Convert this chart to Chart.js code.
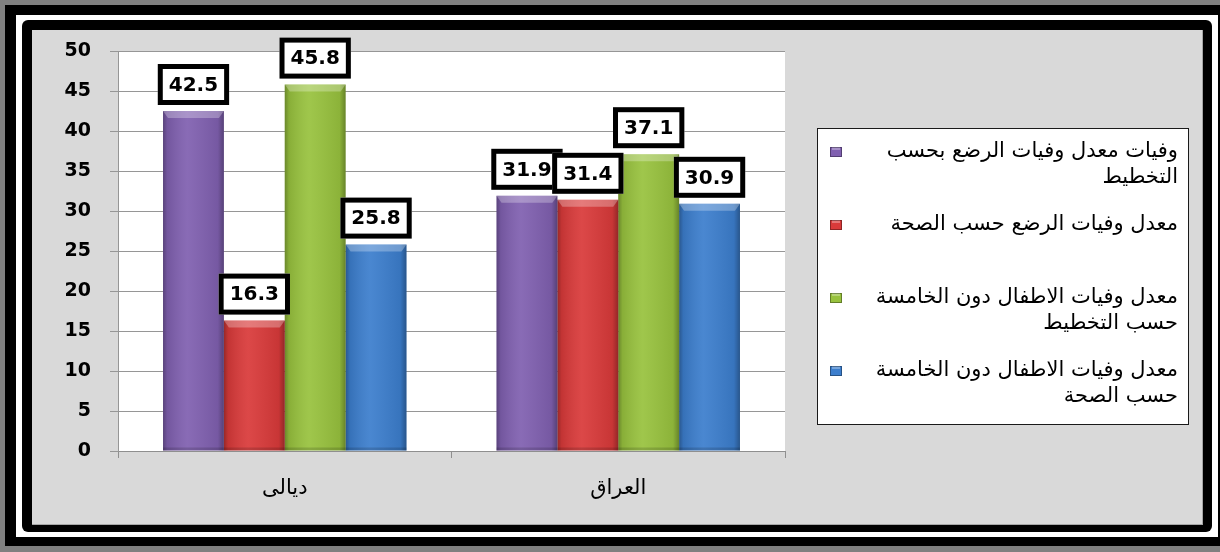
<!DOCTYPE html>
<html>
<head>
<meta charset="utf-8">
<script src="https://cdn.jsdelivr.net/npm/chart.js@4/dist/chart.umd.min.js"></script>
<style>
    html, body { margin: 0; padding: 0; width: 1220px; height: 552px; overflow: hidden; background: #808080; }
    .frame { position: absolute; }
    #outer { left: 5px; top: 5px; width: 1215px; height: 541px; background: #000; }
    #gap { left: 16px; top: 15px; width: 1202px; height: 522px; background: #fff; }
    #inner { left: 22px; top: 20px; width: 1190px; height: 512px; background: #000; border-radius: 6px; }
    #panel { left: 32px; top: 30px; width: 1170px; height: 494px; background: #d9d9d9; border-right: 1px solid #a6a6a6; border-bottom: 1px solid #a6a6a6; }
    #chart { position: absolute; left: 0; top: 0; }
</style>
</head>
<body>
<div class="frame" id="outer"></div>
<div class="frame" id="gap"></div>
<div class="frame" id="inner"></div>
<div class="frame" id="panel"></div>
<canvas id="chart" width="1220" height="552"></canvas>
<script>
const categories = ['ديالى', 'العراق'];

const infantByPlanning = [42.5, 31.9];
const infantByHealth = [16.3, 31.4];
const underFiveByPlanning = [45.8, 37.1];
const underFiveByHealth = [25.8, 30.9];

const seriesNames = [
    ['وفيات معدل وفيات الرضع بحسب', 'التخطيط'],
    ['معدل وفيات الرضع حسب الصحة'],
    ['معدل وفيات الاطفال دون الخامسة', 'حسب التخطيط'],
    ['معدل وفيات الاطفال دون الخامسة', 'حسب الصحة']
];

const yTicks = [0, 5, 10, 15, 20, 25, 30, 35, 40, 45, 50];

const barColors = ['#8060b0', '#d93a3a', '#98c23e', '#3c7ecd'];
const arabicFont = '"DejaVu Sans", sans-serif';

// white plot background
const plotBackground = {
    id: 'plotBackground',
    beforeDraw(chart) {
        const { ctx, chartArea: a } = chart;
        ctx.save();
        ctx.fillStyle = '#ffffff';
        ctx.fillRect(a.left, a.top, a.right - a.left, a.bottom - a.top);
        ctx.restore();
    }
};

// bevel shading on each bar, then the boxed value labels
const barDecor = {
    id: 'barDecor',
    afterDatasetsDraw(chart) {
        const ctx = chart.ctx;
        ctx.save();
        chart.data.datasets.forEach((ds, di) => {
            chart.getDatasetMeta(di).data.forEach(bar => {
                const { x, y, base, width } = bar.getProps(['x', 'y', 'base', 'width'], true);
                const l = x - width / 2, r = x + width / 2;
                const g = ctx.createLinearGradient(l, 0, r, 0);
                g.addColorStop(0, 'rgba(0,0,0,0.30)');
                g.addColorStop(0.07, 'rgba(0,0,0,0.10)');
                g.addColorStop(0.4, 'rgba(255,255,255,0.07)');
                g.addColorStop(0.9, 'rgba(0,0,0,0.08)');
                g.addColorStop(1, 'rgba(0,0,0,0.32)');
                ctx.fillStyle = g;
                ctx.fillRect(l, y, width, base - y);

                ctx.beginPath();
                ctx.moveTo(l, y);
                ctx.lineTo(r, y);
                ctx.lineTo(r - 5, y + 7);
                ctx.lineTo(l + 5, y + 7);
                ctx.closePath();
                ctx.fillStyle = 'rgba(255,255,255,0.28)';
                ctx.fill();

                ctx.fillStyle = 'rgba(0,0,0,0.15)';
                ctx.fillRect(l, base - 3, width, 3);
            });
        });

        ctx.font = 'bold 20px "DejaVu Sans"';
        ctx.textAlign = 'center';
        ctx.textBaseline = 'middle';
        chart.data.datasets.forEach((ds, di) => {
            chart.getDatasetMeta(di).data.forEach((bar, i) => {
                const { x, y } = bar.getProps(['x', 'y'], true);
                const text = ds.data[i].toFixed(1);
                const bw = ctx.measureText(text).width + 22;
                const bh = 41;
                const bx = x - bw / 2;
                const by = y - 6 - bh;
                ctx.fillStyle = '#ffffff';
                ctx.fillRect(bx, by, bw, bh);
                ctx.lineWidth = 5;
                ctx.strokeStyle = '#000000';
                ctx.strokeRect(bx + 2.5, by + 2.5, bw - 5, bh - 5);
                ctx.fillStyle = '#000000';
                ctx.fillText(text, x, by + bh / 2 + 1);
            });
        });
        ctx.restore();
    }
};

// right-to-left legend box with wrapped entries
const sideLegend = {
    id: 'sideLegend',
    afterDraw(chart) {
        const ctx = chart.ctx;
        const box = { left: 817, top: 128, right: 1189, bottom: 425 };
        ctx.save();
        ctx.fillStyle = '#ffffff';
        ctx.fillRect(box.left, box.top, box.right - box.left, box.bottom - box.top);
        ctx.strokeStyle = '#1a1a1a';
        ctx.lineWidth = 1;
        ctx.strokeRect(box.left + 0.5, box.top + 0.5, box.right - box.left - 1, box.bottom - box.top - 1);

        ctx.font = '21px ' + arabicFont;
        ctx.direction = 'rtl';
        ctx.textAlign = 'right';
        ctx.textBaseline = 'middle';
        chart.data.datasets.forEach((ds, di) => {
            const cy = 152 + di * 73;
            const mx = 830, my = cy - 5;
            ctx.fillStyle = ds.backgroundColor;
            ctx.fillRect(mx, my, 12, 10);
            ctx.fillStyle = 'rgba(255,255,255,0.3)';
            ctx.fillRect(mx + 2, my, 8, 3);
            ctx.strokeStyle = 'rgba(0,0,0,0.35)';
            ctx.strokeRect(mx + 0.5, my + 0.5, 11, 9);
            ctx.fillStyle = '#000000';
            seriesNames[di].forEach((line, li) => {
                ctx.fillText(line, 1178, cy + li * 26);
            });
        });
        ctx.restore();
    }
};

new Chart(document.getElementById('chart'), {
    type: 'bar',
    data: {
        labels: categories,
        datasets: [
            { label: seriesNames[0].join(' '), data: infantByPlanning, backgroundColor: barColors[0] },
            { label: seriesNames[1].join(' '), data: infantByHealth, backgroundColor: barColors[1] },
            { label: seriesNames[2].join(' '), data: underFiveByPlanning, backgroundColor: barColors[2] },
            { label: seriesNames[3].join(' '), data: underFiveByHealth, backgroundColor: barColors[3] }
        ]
    },
    options: {
        responsive: false,
        animation: false,
        datasets: {
            bar: { categoryPercentage: 0.73, barPercentage: 1, borderWidth: 0 }
        },
        layout: { padding: { left: 40, top: 51, right: 435, bottom: 41 } },
        plugins: {
            legend: { display: false },
            tooltip: { enabled: false }
        },
        scales: {
            x: {
                afterFit(scale) { scale.height = 60; },
                grid: { offset: true, drawOnChartArea: false, drawTicks: true, tickLength: 7, color: '#8f8f8f' },
                border: { color: '#8f8f8f' },
                ticks: { color: '#000', padding: 18, font: { family: arabicFont, size: 21 } }
            },
            y: {
                min: 0,
                max: 50,
                afterFit(scale) { scale.width = 78; },
                afterBuildTicks(scale) { scale.ticks = yTicks.map(v => ({ value: v })); },
                grid: { color: '#969696', tickLength: 8 },
                border: { color: '#969696' },
                ticks: { color: '#000', padding: 19, font: { family: '"DejaVu Sans"', size: 19, weight: 'bold' } }
            }
        }
    },
    plugins: [plotBackground, barDecor, sideLegend]
});
</script>
</body>
</html>
